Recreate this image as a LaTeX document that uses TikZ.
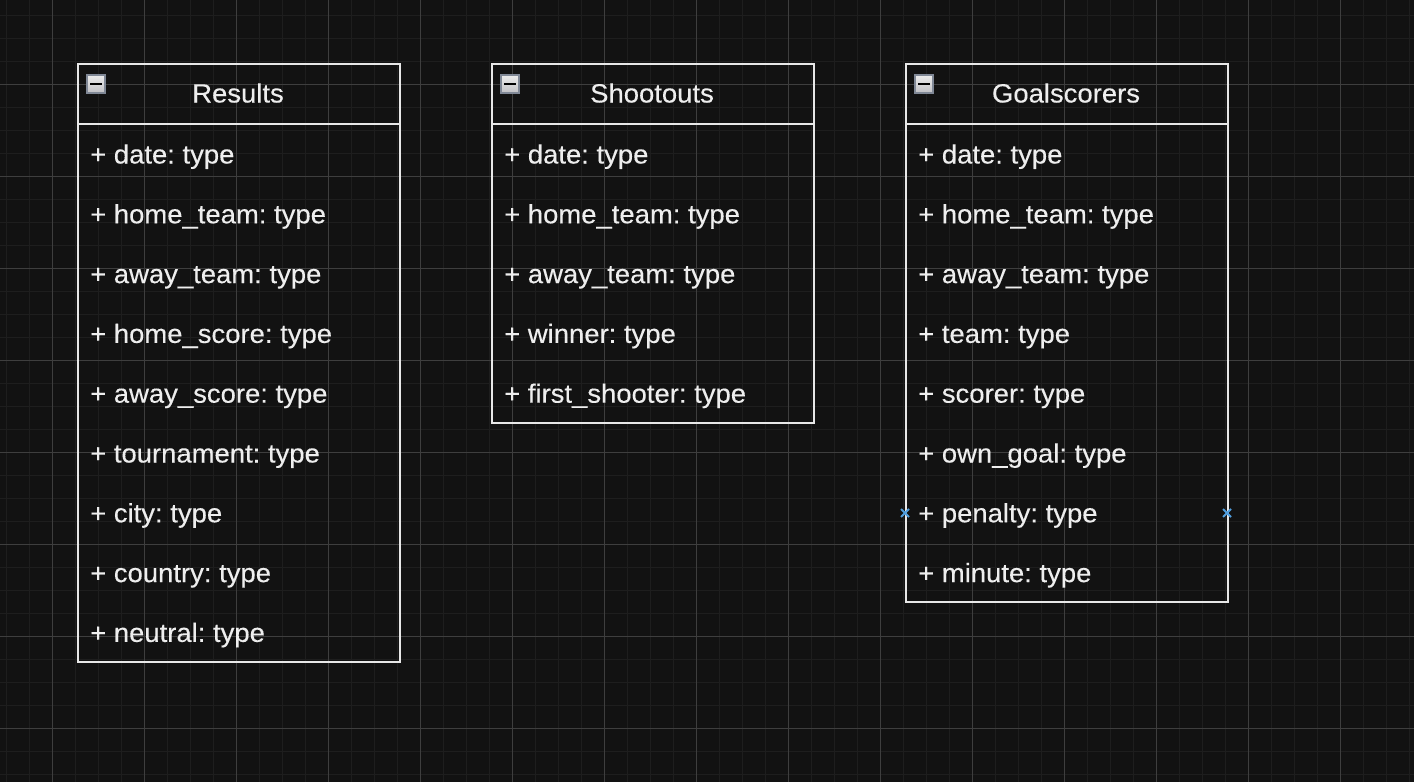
\documentclass[tikz,border=0pt]{standalone}
\usepackage{fontspec}
\setmainfont{Liberation Sans}[FakeStretch=1.04,FakeBold=0.25]
\frenchspacing
\begin{document}
\begin{tikzpicture}[x=1pt,y=-1pt,
  classbox/.style={draw=boxline, line width=2pt, rectangle, inner sep=0pt, outer sep=0pt, minimum width=322pt, anchor=north west},
  sepline/.style={draw=boxline, line width=2pt},
  title/.style={text=txt, font=\fontsize{26.4}{30}\selectfont, anchor=base, inner sep=0pt},
  attr/.style={text=txt, font=\fontsize{26.4}{30}\selectfont, anchor=base west, inner sep=0pt},
  icon/.style={draw=icoborder, line width=1.6pt, rectangle, minimum size=18pt, inner sep=0pt, top color=icotop, bottom color=icobot},
  iconbar/.style={draw=black, line width=2.2pt},
  xmarkline/.style={draw=markcol, line width=1.8pt},
  minorgrid/.style={draw=gridminor, line width=1.5pt},
  majorgrid/.style={draw=gridmajor, line width=1pt}]
\definecolor{bg}{RGB}{18,18,18}
\definecolor{gridminor}{RGB}{30,30,30}
\definecolor{gridmajor}{RGB}{62,62,62}
\definecolor{boxline}{RGB}{232,232,232}
\definecolor{txt}{RGB}{238,238,238}
\definecolor{icoborder}{RGB}{128,136,150}
\definecolor{icotop}{RGB}{236,236,236}
\definecolor{icobot}{RGB}{192,192,196}
\definecolor{markcol}{RGB}{80,158,222}
\useasboundingbox (0,0) rectangle (1414,782);
\fill[bg] (0,0) rectangle (1414,782);
% grid
\begin{scope}
\clip (0,0) rectangle (1414,782);
\foreach \i in {0,...,61} {\draw[minorgrid] (6.3+23*\i,0) -- (6.3+23*\i,782);}
\foreach \i in {0,...,34} {\draw[minorgrid] (0,15.3+23*\i) -- (1414,15.3+23*\i);}
\foreach \i in {0,...,15} {\draw[majorgrid] (52.3+92*\i,0) -- (52.3+92*\i,782);}
\foreach \i in {-1,...,8} {\draw[majorgrid] (0,84.3+92*\i) -- (1414,84.3+92*\i);}
\end{scope}
% Results
\node[classbox, minimum height=598.2pt] (results) at (78,64) {};
\draw[sepline] ([yshift=-60pt]results.north west) -- ([yshift=-60pt]results.north east);
\node[title] (resultsT) at (238,102.5) {Results};
\node[icon] (resultsI) at (96,84) {};
\draw[iconbar] ([xshift=-6pt]resultsI.center) -- ([xshift=6pt]resultsI.center);
\foreach \t [count=\k from 0] in {{+ date: type},{+ home\_team: type},{+ away\_team: type},{+ home\_score: type},{+ away\_score: type},{+ tournament: type},{+ city: type},{+ country: type},{+ neutral: type}}
  {\node[attr] (resultsA\k) at (90,163.5+59.8*\k) {\t};}
% Shootouts
\node[classbox, minimum height=359pt] (shootouts) at (492,64) {};
\draw[sepline] ([yshift=-60pt]shootouts.north west) -- ([yshift=-60pt]shootouts.north east);
\node[title] (shootoutsT) at (652,102.5) {Shootouts};
\node[icon] (shootoutsI) at (510,84) {};
\draw[iconbar] ([xshift=-6pt]shootoutsI.center) -- ([xshift=6pt]shootoutsI.center);
\foreach \t [count=\k from 0] in {{+ date: type},{+ home\_team: type},{+ away\_team: type},{+ winner: type},{+ first\_shooter: type}}
  {\node[attr] (shootoutsA\k) at (504,163.5+59.8*\k) {\t};}
% Goalscorers
\node[classbox, minimum height=538.4pt] (goals) at (906,64) {};
\draw[sepline] ([yshift=-60pt]goals.north west) -- ([yshift=-60pt]goals.north east);
\node[title] (goalsT) at (1066,102.5) {Goalscorers};
\node[icon] (goalsI) at (924,84) {};
\draw[iconbar] ([xshift=-6pt]goalsI.center) -- ([xshift=6pt]goalsI.center);
\foreach \t [count=\k from 0] in {{+ date: type},{+ home\_team: type},{+ away\_team: type},{+ team: type},{+ scorer: type},{+ own\_goal: type},{+ penalty: type},{+ minute: type}}
  {\node[attr] (goalsA\k) at (918,163.5+59.8*\k) {\t};}
% connection marks
\coordinate (markL) at (905,513);
\coordinate (markR) at (1227,513);
\foreach \m in {markL,markR} {
  \draw[xmarkline] ([shift={(-4,-4)}]\m) -- ([shift={(4,4)}]\m);
  \draw[xmarkline] ([shift={(-4,4)}]\m) -- ([shift={(4,-4)}]\m);
}
\end{tikzpicture}
\end{document}
